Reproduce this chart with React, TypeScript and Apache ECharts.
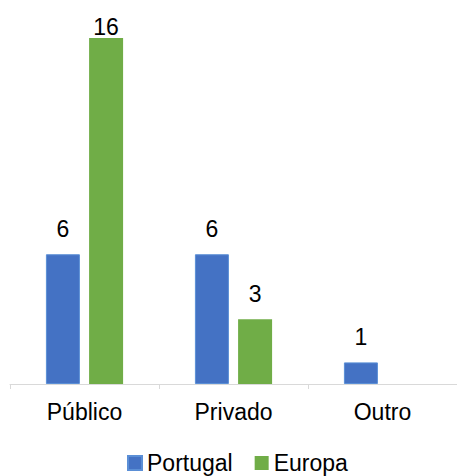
import React, { useEffect, useRef } from "react";
import * as echarts from "echarts";

const categories = ["Público", "Privado", "Outro"];
const portugal = [6, 6, 1];
const europa: (number | null)[] = [16, 3, null];

export default function App() {
  const ref = useRef<HTMLDivElement>(null);
  useEffect(() => {
    const chart = echarts.init(ref.current!, null, { renderer: "svg" });
    const font = "'Liberation Sans', Arial, sans-serif";
    const fs = 23;
    const maxVal = Math.max(...portugal, ...(europa.filter((v) => v != null) as number[]));
    const withLabelFit = (arr: (number | null)[]) =>
      arr.map((v) =>
        v === maxVal ? { value: v, label: { distance: 0 } } : v
      );
    chart.setOption({
      animation: false,
      textStyle: { fontFamily: font },
      grid: { left: 10, right: 0, top: 38, bottom: 92, containLabel: false },
      legend: {
        top: 451,
        left: 127,
        padding: 0,
        itemWidth: 14,
        itemHeight: 14,
        itemGap: 22,
        icon: "rect",
        textStyle: { fontSize: fs, color: "#000", fontFamily: font, lineHeight: 24 },
        data: ["Portugal", "Europa"],
      },
      xAxis: {
        type: "category",
        data: categories,
        axisLine: { lineStyle: { color: "#D9D9D9", width: 1 } },
        axisTick: { show: true, length: 5, lineStyle: { color: "#D9D9D9" } },
        axisLabel: { fontSize: fs, color: "#000", margin: 16, fontFamily: font },
      },
      yAxis: {
        type: "value",
        min: 0,
        max: 16,
        show: false,
        splitLine: { show: false },
      },
      series: [
        {
          name: "Portugal",
          type: "bar",
          data: withLabelFit(portugal),
          barWidth: 34,
          barGap: "27%",
          itemStyle: { color: "#4472C4", borderColor: "#5B8FD6", borderWidth: 1 },
          label: { show: true, position: "top", distance: 14, fontSize: fs, color: "#000", fontFamily: font },
        },
        {
          name: "Europa",
          type: "bar",
          data: withLabelFit(europa),
          barWidth: 34,
          itemStyle: { color: "#70AD47" },
          label: { show: true, position: "top", distance: 14, fontSize: fs, color: "#000", fontFamily: font },
        },
      ],
    });
    return () => chart.dispose();
  }, []);
  return (
    <div
      ref={ref}
      style={{ position: "absolute", left: 0, top: 0, width: 457, height: 476 }}
    />
  );
}
